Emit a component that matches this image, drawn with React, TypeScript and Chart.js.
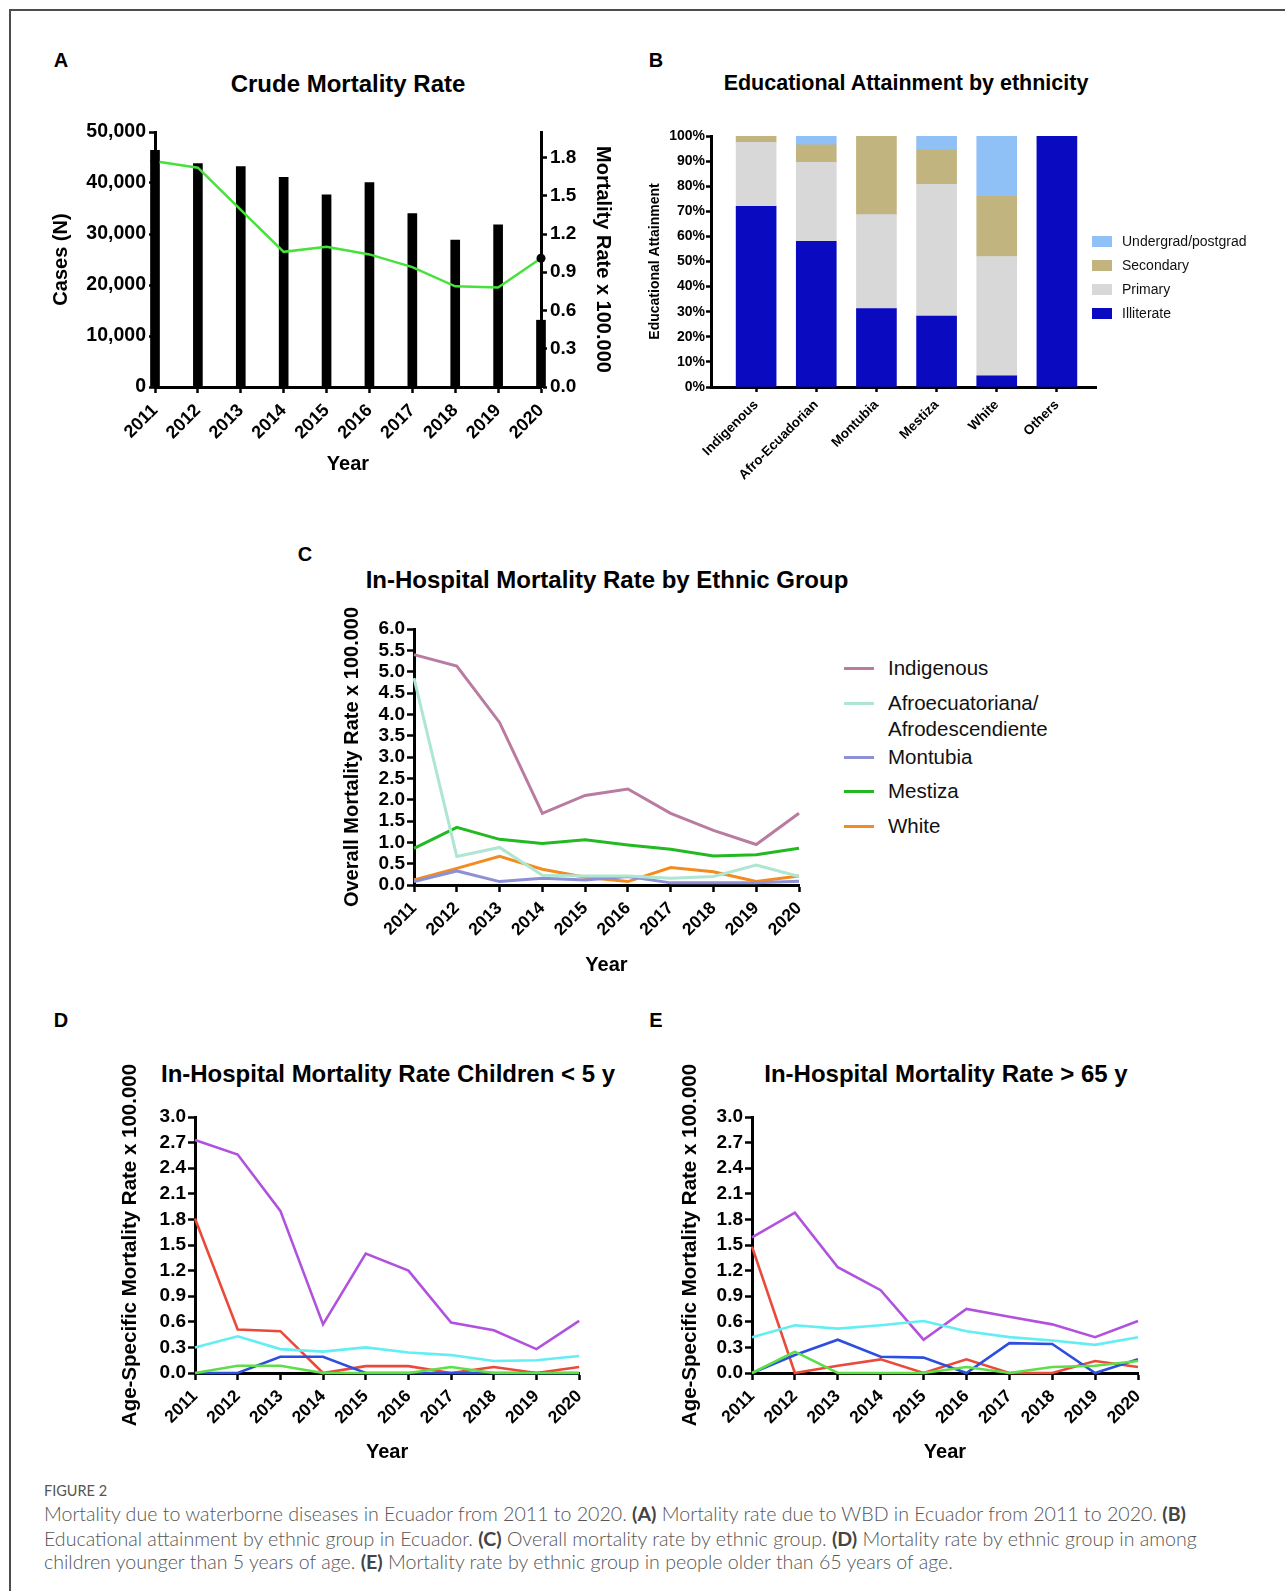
import React, { useEffect, useRef } from "react";
import { Chart, registerables } from "chart.js";

Chart.register(...registerables);

const FONT = '"Liberation Sans", Arial, Helvetica, sans-serif';
const CAPTION_FONT = 'Lato, "Open Sans", sans-serif';

// ---------- A: crude mortality ----------
const years = ["2011", "2012", "2013", "2014", "2015", "2016", "2017", "2018", "2019", "2020"];
const crudeCases = [46400, 43800, 43200, 41100, 37700, 40100, 34000, 28800, 31800, 13100];
const crudeRate = [1.77, 1.72, 1.39, 1.06, 1.1, 1.04, 0.94, 0.79, 0.78, 1.01];

// ---------- B: educational attainment (% of each group) ----------
const ethnicities = ["Indigenous", "Afro-Ecuadorian", "Montubia", "Mestiza", "White", "Others"];
const illiterate = [72, 58, 31.2, 28.3, 4.5, 100];
const primary = [25.5, 31.5, 37.5, 52.4, 47.5, 0];
const secondary = [2.5, 7, 31.3, 13.7, 24, 0];
const undergrad = [0, 3.5, 0, 5.6, 24, 0];

// ---------- C: in-hospital mortality by ethnic group ----------
const indigenousRate = [5.4, 5.13, 3.81, 1.68, 2.1, 2.25, 1.68, 1.28, 0.95, 1.68];
const afroRate = [4.85, 0.67, 0.88, 0.23, 0.21, 0.21, 0.16, 0.2, 0.47, 0.2];
const montubiaRate = [0.08, 0.33, 0.08, 0.16, 0.12, 0.2, 0.05, 0.05, 0.05, 0.09];
const mestizaRate = [0.86, 1.35, 1.07, 0.97, 1.06, 0.94, 0.84, 0.68, 0.71, 0.86];
const whiteRate = [0.12, 0.39, 0.67, 0.37, 0.18, 0.08, 0.41, 0.31, 0.08, 0.21];

// ---------- D: children under 5 ----------
const under5Purple = [2.73, 2.56, 1.9, 0.57, 1.4, 1.2, 0.59, 0.5, 0.28, 0.61];
const under5Red = [1.81, 0.51, 0.49, 0, 0.08, 0.08, 0, 0.07, 0, 0.07];
const under5Cyan = [0.3, 0.43, 0.28, 0.25, 0.3, 0.24, 0.21, 0.14, 0.15, 0.2];
const under5Blue = [0, 0, 0.19, 0.19, 0, 0, 0, 0, 0, 0];
const under5Green = [0, 0.085, 0.085, 0, 0, 0, 0.07, 0, 0, 0];

// ---------- E: adults over 65 ----------
const over65Purple = [1.59, 1.88, 1.24, 0.97, 0.39, 0.75, 0.66, 0.57, 0.42, 0.61];
const over65Red = [1.48, 0, 0.085, 0.16, 0, 0.16, 0, 0, 0.14, 0.07];
const over65Cyan = [0.42, 0.56, 0.52, 0.56, 0.61, 0.49, 0.42, 0.38, 0.33, 0.42];
const over65Blue = [0, 0.21, 0.39, 0.19, 0.18, 0, 0.35, 0.34, 0, 0.16];
const over65Green = [0, 0.25, 0, 0, 0, 0.07, 0, 0.07, 0.085, 0.14];

const EDU_COLORS = {
  illiterate: "#0a0ac0",
  primary: "#d8d8d8",
  secondary: "#c2b47f",
  undergrad: "#8fc0f6",
};

const ETHNIC_SERIES = [
  { label: "Indigenous", data: indigenousRate, color: "#b97ba0" },
  { label: "Afroecuatoriana/\nAfrodescendiente", data: afroRate, color: "#aee6d2" },
  { label: "Montubia", data: montubiaRate, color: "#8e90d6" },
  { label: "Mestiza", data: mestizaRate, color: "#22b922" },
  { label: "White", data: whiteRate, color: "#f28c20" },
];

const AGE_COLORS = ["#5ddf48", "#2d4fe0", "#62eef2", "#ea4a3a", "#b152de"];

// ---------- shared axis helpers ----------
const tickFont = (size: number) => ({ family: FONT, size, weight: "bold" as const });

function frame(tickLength: number) {
  return {
    border: { display: true, color: "#000", width: 3 },
    grid: {
      display: true,
      drawOnChartArea: false,
      drawTicks: true,
      tickLength,
      tickWidth: 2.5,
      tickColor: "#000",
      offset: false,
    },
  };
}

function axisTitle(text: string, size: number, pad: number) {
  return {
    display: true,
    text,
    color: "#000",
    font: { family: FONT, size, weight: "bold" as const },
    padding: { top: pad, bottom: pad },
  };
}

function slanted(size: number, padding = 6) {
  return {
    color: "#000",
    font: tickFont(size),
    minRotation: 45,
    maxRotation: 45,
    autoSkip: false,
    padding,
  };
}

const fixedWidth = (w: number) => (scale: any) => {
  scale.width = w;
};
const fixedHeight = (h: number) => (scale: any) => {
  scale.height = h;
};

const baseOptions = {
  responsive: false,
  animation: false as const,
  devicePixelRatio: 1,
  events: [] as any[],
};

// ---------- chart configs ----------
function crudeConfig() {
  const last = crudeRate.length - 1;
  return {
    type: "bar",
    data: {
      labels: years,
      datasets: [
        {
          type: "line",
          label: "Mortality rate",
          data: crudeRate,
          yAxisID: "yRate",
          borderColor: "#46e23a",
          borderWidth: 2.5,
          tension: 0,
          pointRadius: (ctx: any) => (ctx.dataIndex === 0 || ctx.dataIndex === last ? 4.5 : 0),
          pointBackgroundColor: "#000",
          pointBorderColor: "#000",
          pointBorderWidth: 0,
          order: 0,
          clip: false,
        },
        {
          type: "bar",
          label: "Cases",
          data: crudeCases,
          yAxisID: "yCases",
          backgroundColor: "#000",
          barThickness: 9,
          order: 1,
          clip: false,
        },
      ],
    },
    options: {
      ...baseOptions,
      layout: { padding: { left: 0, right: 0, top: 22, bottom: 0 } },
      plugins: { legend: { display: false }, tooltip: { enabled: false } },
      scales: {
        x: {
          type: "category",
          offset: false,
          ...frame(6),
          ticks: slanted(18, 7),
          title: axisTitle("Year", 20, 14),
          afterFit: fixedHeight(103),
        },
        yCases: {
          position: "left",
          min: 0,
          max: 50000,
          ...frame(6),
          ticks: {
            stepSize: 10000,
            autoSkip: false,
            color: "#000",
            font: tickFont(19.5),
            padding: 3,
            callback: (v: any) => Number(v).toLocaleString("en-US"),
          },
          title: axisTitle("Cases (N)", 20, 29),
          afterFit: fixedWidth(135),
        },
        yRate: {
          position: "right",
          min: 0,
          max: 2,
          ...frame(6),
          ticks: {
            stepSize: 0.3,
            includeBounds: false,
            autoSkip: false,
            color: "#000",
            font: tickFont(19),
            padding: 3,
            callback: (v: any) => Number(v).toFixed(1),
          },
          title: axisTitle("Mortality Rate x 100.000", 20, 25),
          afterFit: fixedWidth(99),
        },
      },
    },
  };
}

function educationConfig() {
  const toPoints = (arr: number[]) => arr.map((y, x) => ({ x, y }));
  const bar = (label: string, data: number[], color: string) => ({
    label,
    data: toPoints(data),
    backgroundColor: color,
    borderWidth: 0,
    barThickness: 40,
  });
  return {
    type: "bar",
    data: {
      datasets: [
        bar("Illiterate", illiterate, EDU_COLORS.illiterate),
        bar("Primary", primary, EDU_COLORS.primary),
        bar("Secondary", secondary, EDU_COLORS.secondary),
        bar("Undergrad/postgrad", undergrad, EDU_COLORS.undergrad),
      ],
    },
    options: {
      ...baseOptions,
      layout: { padding: { left: 0, right: 14, top: 26, bottom: 0 } },
      plugins: { legend: { display: false }, tooltip: { enabled: false } },
      scales: {
        x: {
          type: "linear",
          stacked: true,
          offset: false,
          min: -0.75,
          max: 5.65,
          ...frame(5),
          ticks: {
            ...slanted(13.5, 5),
            stepSize: 1,
            includeBounds: false,
            callback: (v: any) => ethnicities[v] ?? "",
          },
          afterFit: fixedHeight(103),
        },
        y: {
          stacked: true,
          min: 0,
          max: 100,
          ...frame(5),
          ticks: {
            stepSize: 10,
            autoSkip: false,
            color: "#000",
            font: tickFont(14),
            padding: 1,
            callback: (v: any) => `${v}%`,
          },
          title: axisTitle("Educational Attainment", 14, 16.6),
          afterFit: fixedWidth(81),
        },
      },
    },
  };
}

function lineConfig(p: {
  series: { label: string; data: number[]; color: string }[];
  yMax: number;
  yStep: number;
  yTitle: string;
  yTitleSize: number;
  yTitlePad: number;
  yWidth: number;
  xHeight: number;
  xTitlePad: number;
  pad: { left: number; right: number; top: number; bottom: number };
  lineWidth: number;
}) {
  return {
    type: "line",
    data: {
      labels: years,
      datasets: p.series.map((s) => ({
        label: s.label,
        data: s.data,
        borderColor: s.color,
        backgroundColor: s.color,
        borderWidth: p.lineWidth,
        pointRadius: 0,
        tension: 0,
        fill: false,
        clip: 6,
      })),
    },
    options: {
      ...baseOptions,
      layout: { padding: p.pad },
      plugins: { legend: { display: false }, tooltip: { enabled: false } },
      scales: {
        x: {
          type: "category",
          offset: false,
          ...frame(7),
          ticks: slanted(17.5, 6),
          title: axisTitle("Year", 20, p.xTitlePad),
          afterFit: fixedHeight(p.xHeight),
        },
        y: {
          min: 0,
          max: p.yMax,
          ...frame(7),
          ticks: {
            stepSize: p.yStep,
            autoSkip: false,
            color: "#000",
            font: tickFont(19),
            padding: 2,
            callback: (v: any) => Number(v).toFixed(1),
          },
          title: axisTitle(p.yTitle, p.yTitleSize, p.yTitlePad),
          afterFit: fixedWidth(p.yWidth),
        },
      },
    },
  };
}

function ethnicConfig() {
  return lineConfig({
    series: ETHNIC_SERIES,
    yMax: 6,
    yStep: 0.5,
    yTitle: "Overall Mortality Rate x 100.000",
    yTitleSize: 20,
    yTitlePad: 20,
    yWidth: 94,
    xHeight: 105,
    xTitlePad: 13,
    pad: { left: 0, right: 21, top: 29, bottom: 0 },
    lineWidth: 3,
  });
}

function ageSeries(values: number[][]) {
  return values.map((data, i) => ({ label: `Group ${i + 1}`, data, color: AGE_COLORS[i] }));
}

function under5Config() {
  return lineConfig({
    series: ageSeries([under5Green, under5Blue, under5Cyan, under5Red, under5Purple]),
    yMax: 3,
    yStep: 0.3,
    yTitle: "Age-Specific Mortality Rate x 100.000",
    yTitleSize: 20.5,
    yTitlePad: 17.7,
    yWidth: 95,
    xHeight: 107,
    xTitlePad: 16,
    pad: { left: 0, right: 19, top: 67, bottom: 0 },
    lineWidth: 2.6,
  });
}

function over65Config() {
  return lineConfig({
    series: ageSeries([over65Green, over65Blue, over65Cyan, over65Red, over65Purple]),
    yMax: 3,
    yStep: 0.3,
    yTitle: "Age-Specific Mortality Rate x 100.000",
    yTitleSize: 20.5,
    yTitlePad: 17.7,
    yWidth: 92,
    xHeight: 107,
    xTitlePad: 16,
    pad: { left: 0, right: 22, top: 67, bottom: 0 },
    lineWidth: 2.6,
  });
}

// ---------- components ----------
type Box = { left: number; top: number; width: number; height: number };

function ChartCanvas({ box, config }: { box: Box; config: () => any }) {
  const ref = useRef<HTMLCanvasElement>(null);
  useEffect(() => {
    if (!ref.current) return;
    const chart = new Chart(ref.current, config());
    return () => chart.destroy();
  }, []);
  return (
    <canvas
      ref={ref}
      width={box.width}
      height={box.height}
      style={{ position: "absolute", left: box.left, top: box.top, width: box.width, height: box.height }}
    />
  );
}

function Text({
  x,
  y,
  children,
  size,
  weight = 700,
  color = "#000",
  align = "center",
  family = FONT,
}: {
  x: number;
  y: number;
  children: React.ReactNode;
  size: number;
  weight?: number;
  color?: string;
  align?: "center" | "left";
  family?: string;
}) {
  return (
    <div
      style={{
        position: "absolute",
        left: x,
        top: y,
        transform: `translate(${align === "center" ? "-50%" : "0"}, -50%)`,
        fontFamily: family,
        fontSize: size,
        fontWeight: weight,
        lineHeight: 1,
        whiteSpace: "nowrap",
        color,
      }}
    >
      {children}
    </div>
  );
}

function EducationLegend() {
  const items = [
    { label: "Undergrad/postgrad", color: EDU_COLORS.undergrad },
    { label: "Secondary", color: EDU_COLORS.secondary },
    { label: "Primary", color: EDU_COLORS.primary },
    { label: "Illiterate", color: EDU_COLORS.illiterate },
  ];
  const rows = [241, 265, 289, 313];
  return (
    <>
      {items.map((it, i) => (
        <React.Fragment key={it.label}>
          <div
            style={{
              position: "absolute",
              left: 1092,
              top: rows[i] - 5.5,
              width: 20,
              height: 11,
              background: it.color,
            }}
          />
          <Text x={1122} y={rows[i]} size={14} weight={400} align="left" color="#111">
            {it.label}
          </Text>
        </React.Fragment>
      ))}
    </>
  );
}

function EthnicLegend() {
  const rows = [668, 703, 757, 791, 826];
  return (
    <>
      {ETHNIC_SERIES.map((s, i) => {
        const lines = s.label.split("\n");
        return (
          <React.Fragment key={s.label}>
            <div
              style={{
                position: "absolute",
                left: 844,
                top: rows[i] - 1.5,
                width: 30,
                height: 3,
                background: s.color,
              }}
            />
            {lines.map((ln, j) => (
              <Text key={ln} x={888} y={rows[i] + j * 26} size={20.5} weight={400} align="left" color="#111">
                {ln}
              </Text>
            ))}
          </React.Fragment>
        );
      })}
    </>
  );
}

function Caption() {
  const b = (t: string) => <span style={{ fontWeight: 700, color: "#444" }}>{t}</span>;
  const lineStyle = (y: number): React.CSSProperties => ({
    position: "absolute",
    left: 44,
    top: y,
    transform: "translateY(-50%)",
    fontFamily: CAPTION_FONT,
    fontSize: 19.6,
    fontWeight: 300,
    lineHeight: 1,
    whiteSpace: "nowrap",
    color: "#555",
  });
  return (
    <>
      <div style={{ ...lineStyle(1491), fontSize: 14.5, fontWeight: 400, color: "#555" }}>FIGURE 2</div>
      <div style={lineStyle(1514)}>
        Mortality due to waterborne diseases in Ecuador from 2011 to 2020. {b("(A)")} Mortality rate due to WBD in
        Ecuador from 2011 to 2020. {b("(B)")}
      </div>
      <div style={lineStyle(1539)}>
        Educational attainment by ethnic group in Ecuador. {b("(C)")} Overall mortality rate by ethnic group.{" "}
        {b("(D)")} Mortality rate by ethnic group in among
      </div>
      <div style={lineStyle(1562)}>
        children younger than 5 years of age. {b("(E)")} Mortality rate by ethnic group in people older than 65 years
        of age.
      </div>
    </>
  );
}

export default function App() {
  return (
    <div
      style={{
        position: "absolute",
        left: 0,
        top: 0,
        width: 1285,
        height: 1591,
        background: "#fff",
        overflow: "hidden",
      }}
    >
      {/* frame */}
      <div style={{ position: "absolute", left: 9, top: 9, right: 0, height: 2, background: "#4d4d4d" }} />
      <div style={{ position: "absolute", left: 9, top: 9, width: 2, bottom: 0, background: "#4d4d4d" }} />

      {/* panel letters */}
      <Text x={61} y={60} size={20}>A</Text>
      <Text x={656} y={60} size={20}>B</Text>
      <Text x={305} y={554} size={20}>C</Text>
      <Text x={61} y={1020} size={20}>D</Text>
      <Text x={656} y={1020} size={20}>E</Text>

      {/* panel titles */}
      <Text x={348} y={84} size={24}>Crude Mortality Rate</Text>
      <Text x={906} y={84} size={21.5}>Educational Attainment by ethnicity</Text>
      <Text x={607} y={580} size={24}>In-Hospital Mortality Rate by Ethnic Group</Text>
      <Text x={388} y={1074} size={24}>In-Hospital Mortality Rate Children &lt; 5 y</Text>
      <Text x={946} y={1074} size={24}>In-Hospital Mortality Rate &gt; 65 y</Text>

      <ChartCanvas box={{ left: 20, top: 110, width: 620, height: 380 }} config={crudeConfig} />
      <ChartCanvas box={{ left: 630, top: 110, width: 480, height: 380 }} config={educationConfig} />
      <ChartCanvas box={{ left: 320, top: 600, width: 500, height: 390 }} config={ethnicConfig} />
      <ChartCanvas box={{ left: 100, top: 1050, width: 500, height: 430 }} config={under5Config} />
      <ChartCanvas box={{ left: 660, top: 1050, width: 500, height: 430 }} config={over65Config} />

      <EducationLegend />
      <EthnicLegend />
      <Caption />
    </div>
  );
}
